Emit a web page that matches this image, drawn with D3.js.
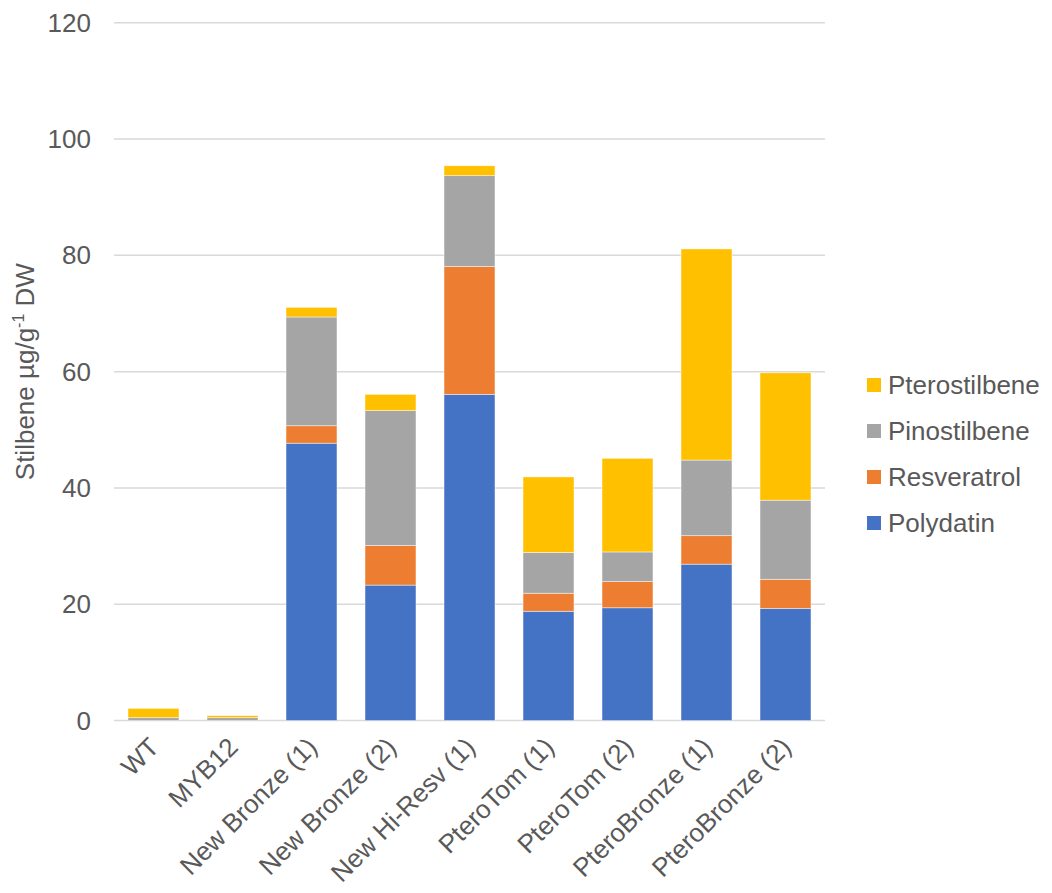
<!DOCTYPE html>
<html>
<head>
<meta charset="utf-8">
<script src="https://cdn.jsdelivr.net/npm/d3@7"></script>
<style>
  html, body { margin: 0; padding: 0; background: #fff; }
  svg text { font-family: "Liberation Sans", Arial, sans-serif; fill: #595959; }
</style>
</head>
<body>
<svg id="chart" width="1052" height="893"></svg>
<script>
const categories = ["WT", "MYB12", "New Bronze (1)", "New Bronze (2)", "New Hi-Resv (1)",
  "PteroTom (1)", "PteroTom (2)", "PteroBronze (1)", "PteroBronze (2)"];
const polydatin     = [0.0, 0.0, 47.7, 23.3, 56.1, 18.8, 19.4, 26.9, 19.3];
const resveratrol   = [0.0, 0.0, 3.0, 6.8, 22.0, 3.1, 4.5, 4.9, 5.0];
const pinostilbene  = [0.5, 0.5, 18.7, 23.2, 15.6, 7.0, 5.1, 13.0, 13.6];
const pterostilbene = [1.6, 0.35, 1.65, 2.8, 1.7, 13.0, 16.1, 36.3, 21.9];
const seriesNames = ["Polydatin", "Resveratrol", "Pinostilbene", "Pterostilbene"];
const seriesColors = ["#4472C4", "#ED7D31", "#A5A5A5", "#FFC000"];
const yTicks = [0, 20, 40, 60, 80, 100, 120];

const seriesValues = [polydatin, resveratrol, pinostilbene, pterostilbene];
const rows = categories.map((c, i) => {
  const r = { cat: c };
  seriesNames.forEach((s, k) => r[s] = seriesValues[k][i]);
  return r;
});
const stacked = d3.stack().keys(seriesNames)(rows);

const svg = d3.select("#chart");
const mLeft = 114, mRight = 825, mTop = 22.7, mBottom = 720.6;

const x = d3.scaleBand().domain(categories).range([mLeft, mRight]).paddingInner(0.355).paddingOuter(0.1775);
const y = d3.scaleLinear().domain([0, 120]).range([mBottom, mTop]);

// gridlines
svg.append("g").selectAll("line").data(yTicks).join("line")
  .attr("x1", mLeft).attr("x2", mRight)
  .attr("y1", d => y(d)).attr("y2", d => y(d))
  .attr("stroke", "#D9D9D9").attr("stroke-width", 1.5);

// y tick labels
svg.append("g").selectAll("text").data(yTicks).join("text")
  .attr("x", 91).attr("y", d => y(d)).attr("dy", "0.35em")
  .attr("text-anchor", "end").attr("font-size", 26)
  .text(d => d);

// bars
const color = d3.scaleOrdinal().domain(seriesNames).range(seriesColors);
svg.append("g").selectAll("g").data(stacked).join("g")
  .attr("fill", d => color(d.key))
  .selectAll("rect").data(d => d).join("rect")
  .attr("x", d => x(d.data.cat))
  .attr("width", x.bandwidth())
  .attr("y", d => y(d[1]))
  .attr("height", d => Math.max(0, y(d[0]) - y(d[1])))
  .attr("stroke", "#ffffff").attr("stroke-width", 0.75).attr("stroke-opacity", 0.6);

// x labels
svg.append("g").selectAll("text").data(categories).join("text")
  .attr("transform", d => `translate(${x(d) + x.bandwidth() / 2 - 6},${mBottom + 15}) rotate(-45)`)
  .attr("text-anchor", "end").attr("dy", "0.71em").attr("font-size", 26)
  .text(d => d);

// y axis title
const yt = svg.append("text")
  .attr("transform", `translate(34,${(mTop + mBottom) / 2}) rotate(-90)`)
  .attr("text-anchor", "middle").attr("font-size", 26);
yt.append("tspan").text("Stilbene µg/g");
yt.append("tspan").attr("font-size", 16).attr("dy", -10).text("-1");
yt.append("tspan").attr("dy", 10).text(" DW");

// legend
const legendItems = seriesNames.slice().reverse();
const lg = svg.append("g").selectAll("g").data(legendItems).join("g")
  .attr("transform", (d, i) => `translate(867,${385 + i * 46})`);
lg.append("rect").attr("x", 0).attr("y", -7).attr("width", 14).attr("height", 14)
  .attr("fill", d => color(d));
lg.append("text").attr("x", 21).attr("y", 0).attr("dy", "0.35em").attr("font-size", 26)
  .text(d => d);
</script>
</body>
</html>
